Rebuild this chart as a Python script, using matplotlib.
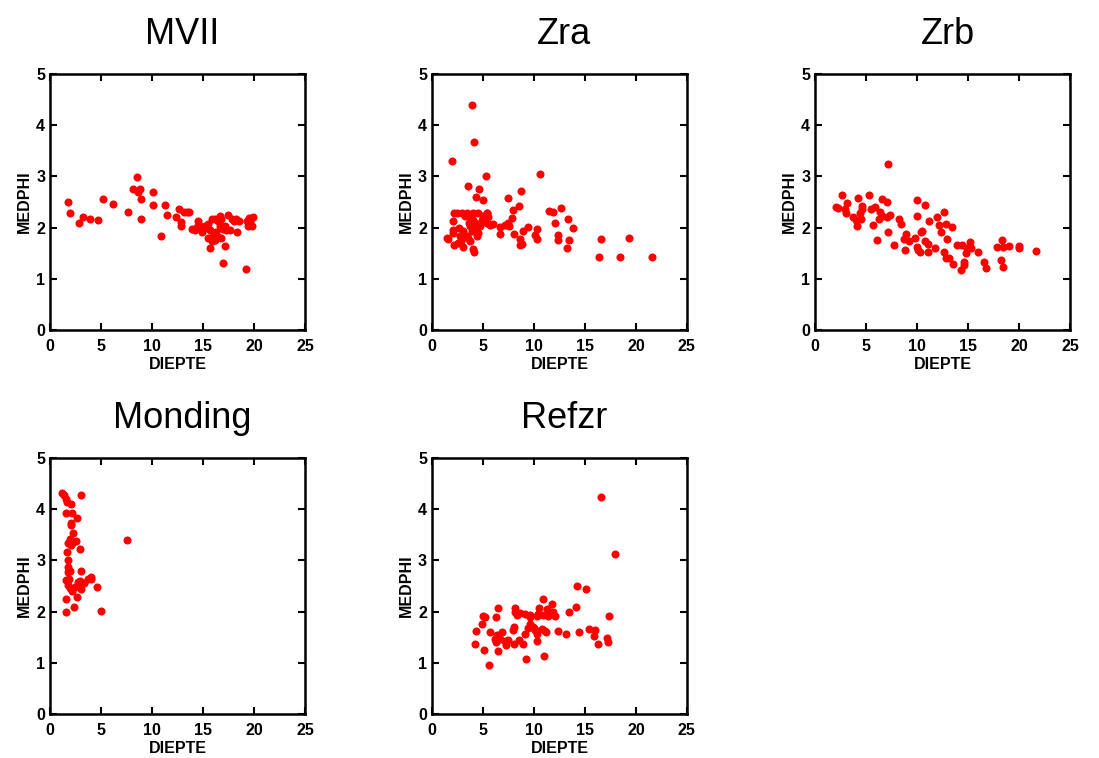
import matplotlib
matplotlib.use('Agg')
from matplotlib import pyplot as plt

plt.rcParams['font.family'] = ['Liberation Sans', 'DejaVu Sans']

# DIEPTE / MEDPHI per location
mvii_diepte = [1.80, 1.99, 2.81, 3.20, 3.92, 4.67, 5.23, 6.21, 7.65, 8.14, 8.53, 8.66, 8.86,
               8.95, 8.95, 10.1, 10.1, 10.9, 11.24, 11.44, 12.32, 12.6, 12.84, 12.84, 13.1,
               13.43, 13.6, 15.7, 16.93, 19.2, 17.15, 17.5, 18.2, 19.5, 19.9, 19.8, 19.6,
               14.54, 14.2, 14.9, 15.85, 16.2, 16.5, 16.7, 16.8, 17.0, 16.0, 16.2, 15.85,
               16.5, 16.3, 17.3, 17.6, 18.0, 18.3, 13.9, 15.2, 15.5, 14.4, 14.7, 15.0, 15.7,
               16.7, 17.15, 17.8, 18.5, 19.3, 19.45, 15.5, 16.8]
mvii_medphi = [2.51, 2.28, 2.10, 2.21, 2.17, 2.14, 2.55, 2.47, 2.30, 2.75, 2.99, 2.69, 2.75,
               2.55, 2.17, 2.70, 2.45, 1.84, 2.45, 2.25, 2.21, 2.36, 2.11, 2.04, 2.31,
               2.30, 2.30, 1.60, 1.30, 1.20, 1.65, 2.25, 2.17, 2.18, 2.21, 2.03, 2.13,
               2.13, 1.95, 1.92, 2.16, 2.16, 2.13, 2.22, 2.16, 1.98, 1.84, 1.76, 1.73,
               1.82, 1.92, 1.95, 1.95, 2.13, 1.92, 1.98, 2.04, 2.08, 2.01, 2.04, 1.98, 1.95,
               2.04, 2.04, 2.16, 2.13, 2.13, 2.04, 1.79, 1.79]

zra_diepte = [3.95, 4.15, 1.93, 5.26, 10.56, 3.53, 4.64, 4.31, 5.03, 8.76, 7.45, 8.53, 7.97,
              11.5, 11.86, 12.68, 13.37, 12.06, 13.86, 10.33, 9.44, 8.95, 10.1, 10.33, 12.4,
              12.37, 13.4, 13.27, 8.63, 8.8, 8.63, 8.04, 6.7, 6.67, 7.58, 7.81, 7.48, 7.16,
              5.95, 5.36, 5.46, 16.6, 16.37, 18.46, 19.3, 21.6, 4.05, 4.15,
              2.16, 2.49, 2.94, 3.4, 4.05, 4.54, 5.36, 1.6, 1.5, 2.1, 2.1, 2.03, 2.2,
              2.68, 2.75, 3.07, 2.9, 3.4, 3.73, 3.66, 3.9, 4.2, 4.38, 4.54, 4.7, 4.87,
              5.03, 4.05, 3.24, 3.56, 2.52, 3.0, 3.73, 3.73, 4.2, 5.36, 5.7, 5.1]
zra_medphi = [4.40, 3.68, 3.31, 3.01, 3.05, 2.82, 2.75, 2.60, 2.54, 2.71, 2.58, 2.42, 2.34,
              2.33, 2.30, 2.38, 2.17, 2.10, 2.00, 1.97, 2.01, 1.94, 1.86, 1.77, 1.85,
              1.75, 1.76, 1.60, 1.78, 1.69, 1.66, 1.88, 1.88, 2.01, 2.04, 2.18, 2.09, 2.05,
              2.07, 2.28, 2.20, 1.78, 1.43, 1.43, 1.80, 1.43, 1.58, 1.52,
              2.28, 2.28, 2.28, 2.28, 2.28, 2.28, 2.28, 1.78, 1.79, 2.13, 1.90, 1.96, 1.66,
              2.00, 1.83, 1.93, 1.74, 1.83, 2.03, 2.09, 1.93, 1.96, 1.83, 1.90, 2.03, 2.15,
              2.22, 2.15, 2.22, 1.80, 1.70, 1.63, 2.22, 1.74, 2.09, 2.09, 2.05, 2.12]

zrb_diepte = [7.19, 2.06, 2.29, 2.68, 3.17, 2.94, 3.04, 4.18, 4.58, 4.64, 4.41, 3.76, 4.02,
              4.08, 4.51, 5.29, 5.46, 5.88, 6.54, 7.09, 6.37, 6.54, 7.03, 7.35, 6.27, 5.69,
              6.08, 7.19, 7.7, 8.2, 8.4, 8.9, 8.7, 9.18, 8.79, 9.8, 10.0, 10.0, 10.78, 11.2,
              10.36, 10.46, 9.97, 10.1, 10.3, 10.78, 11.1, 11.1, 11.77, 12.6, 12.0, 12.2,
              12.8, 13.4, 12.4, 12.97, 12.65, 12.85, 13.1, 13.5, 13.9, 14.4, 14.77, 14.64,
              14.64, 14.3, 15.2, 15.26, 14.9, 16.0, 16.6, 16.73, 17.8, 18.3, 18.45, 19.05,
              20.0, 20.0, 18.2, 18.4, 21.7]
zrb_medphi = [3.25, 2.41, 2.39, 2.63, 2.49, 2.37, 2.29, 2.57, 2.43, 2.37, 2.29, 2.20, 2.15,
              2.04, 2.17, 2.63, 2.36, 2.41, 2.55, 2.50, 2.31, 2.22, 2.21, 2.25, 2.16, 2.06,
              1.76, 1.91, 1.67, 2.17, 2.07, 1.88, 1.78, 1.73, 1.57, 1.80, 2.54, 2.22, 2.44,
              2.13, 1.92, 1.93, 1.63, 1.57, 1.52, 1.73, 1.68, 1.52, 1.60, 2.30, 2.20, 2.05,
              2.08, 2.01, 1.91, 1.77, 1.52, 1.41, 1.40, 1.29, 1.67, 1.67, 1.50, 1.32,
              1.27, 1.17, 1.71, 1.60, 1.61, 1.52, 1.32, 1.22, 1.62, 1.75, 1.62, 1.65,
              1.65, 1.60, 1.36, 1.23, 1.55]

monding_diepte = [1.14, 1.37, 1.53, 1.63, 2.03, 3.04, 1.57, 2.12, 2.65, 2.03, 2.03, 2.22,
                  1.96, 1.8, 2.19, 2.52, 2.03, 7.52, 2.9, 1.7, 1.8, 1.8, 1.8, 1.96, 3.04,
                  1.57, 1.86, 2.71, 2.97, 3.33, 3.76, 4.02, 4.02, 3.1, 1.73, 1.96, 2.45,
                  4.57, 2.12, 3.0, 2.68, 1.53, 2.32, 1.53, 5.0]
monding_medphi = [4.31, 4.27, 4.21, 4.15, 4.10, 4.28, 3.92, 3.92, 3.82, 3.74, 3.70, 3.53,
                  3.41, 3.35, 3.35, 3.38, 3.30, 3.40, 3.22, 3.17, 3.00, 2.87, 2.77, 2.79, 2.79,
                  2.62, 2.63, 2.58, 2.59, 2.55, 2.64, 2.68, 2.64, 2.55, 2.52, 2.46, 2.48,
                  2.48, 2.40, 2.44, 2.29, 2.25, 2.10, 2.00, 2.02]

refzr_diepte = [16.57, 17.97, 14.25, 15.07, 14.15, 10.85, 11.76, 11.27, 10.46, 6.47, 8.17,
                8.14, 8.63, 8.37, 9.12, 9.6, 10.43, 10.26, 10.9, 11.4, 11.9, 12.06, 13.47,
                17.35, 4.97, 5.2, 4.93, 6.27, 4.35, 5.69, 6.83, 6.34, 6.18, 6.67, 7.16, 7.48,
                7.91, 8.04, 8.53, 8.95, 8.07, 7.3, 6.24, 4.25, 5.13, 6.44, 5.56, 9.25, 10.95,
                9.45, 9.6, 9.93, 10.1, 10.75, 11.1, 11.2, 10.33, 10.26, 9.15, 9.6, 10.0,
                12.35, 13.14, 14.38, 15.4, 15.98, 15.88, 16.27, 17.16, 17.25]
refzr_medphi = [4.24, 3.12, 2.50, 2.44, 2.10, 2.24, 2.15, 2.05, 2.07, 2.08, 2.07,
                1.99, 1.98, 1.94, 1.96, 1.93, 1.96, 1.91, 1.93, 1.91, 2.00, 1.91, 2.00,
                1.91, 1.91, 1.90, 1.76, 1.90, 1.62, 1.60, 1.60, 1.55, 1.46, 1.46, 1.42, 1.45,
                1.64, 1.70, 1.45, 1.37, 1.36, 1.34, 1.40, 1.36, 1.25, 1.23, 0.96, 1.07, 1.14,
                1.68, 1.75, 1.70, 1.64, 1.66, 1.63, 1.60, 1.57, 1.43, 1.57, 1.90, 1.68,
                1.62, 1.56, 1.60, 1.66, 1.64, 1.53, 1.37, 1.48, 1.40]

panels = [
    ('MVII', mvii_diepte, mvii_medphi),
    ('Zra', zra_diepte, zra_medphi),
    ('Zrb', zrb_diepte, zrb_medphi),
    ('Monding', monding_diepte, monding_medphi),
    ('Refzr', refzr_diepte, refzr_medphi),
]

# axes rectangles in figure fractions (left, bottom, width, height)
lefts = [0.0455, 0.393, 0.7416]
bottoms = [0.5646, 0.058]
width, height = 0.232, 0.3377

fig = plt.figure(figsize=(10.99, 7.58), dpi=100)

for i, (name, x, y) in enumerate(panels):
    row, col = divmod(i, 3)
    ax = fig.add_axes([lefts[col], bottoms[row], width, height])
    ax.plot(x, y, 'o', color='#ff0000', markersize=5.8, markeredgewidth=0)
    ax.set_xlim(0, 25)
    ax.set_ylim(0, 5)
    ax.set_xticks([0, 5, 10, 15, 20, 25])
    ax.set_yticks([0, 1, 2, 3, 4, 5])
    ax.tick_params(direction='in', top=True, right=True, length=5, width=1.5,
                   labelsize=11.5)
    ax.tick_params(axis='x', pad=6.5)
    ax.tick_params(axis='y', pad=3.5)
    for lbl in ax.get_xticklabels() + ax.get_yticklabels():
        lbl.set_fontweight('bold')
    for sp in ax.spines.values():
        sp.set_linewidth(1.8)
    ax.set_xlabel('DIEPTE', fontsize=11.5, fontweight='bold', labelpad=2)
    ax.set_ylabel('MEDPHI', fontsize=11.5, fontweight='bold', labelpad=3)
    ax.set_title(name, fontsize=26, pad=22, x=0.52)

fig.savefig('out.png', dpi=100)
